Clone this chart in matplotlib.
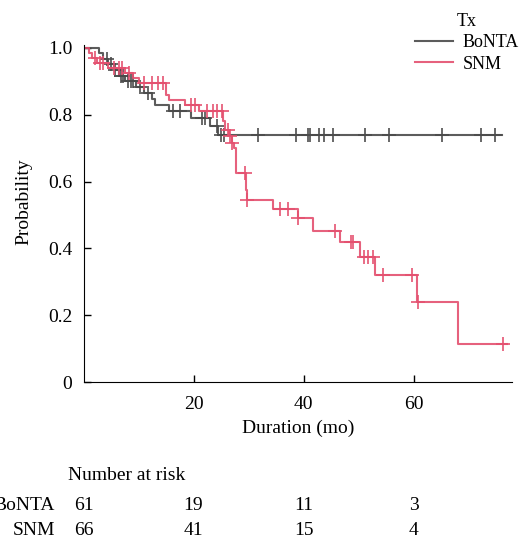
import numpy as np
import matplotlib.pyplot as plt

plt.rcParams['font.family'] = ['Liberation Serif', 'DejaVu Serif']
plt.rcParams['font.size'] = 14

# Kaplan-Meier steps (time in months, survival after the drop)
bonta_times = [0, 2.8, 3.5, 4.5, 5.5, 6.5, 7.5, 9.5, 11.0, 12.5, 13.0, 15.5, 19.5, 23.0, 24.5]
bonta_surv = [1.0, 0.984, 0.967, 0.951, 0.934, 0.917, 0.90, 0.883, 0.865, 0.846, 0.828,
              0.81, 0.79, 0.765, 0.74]
bonta_end = 76.0
bonta_censor = [4.2, 5.0, 5.8, 6.8, 7.2, 8.0, 8.6, 9.0, 10.2, 11.8, 16.3, 17.6, 21.5, 22.0,
                24.3, 25.0, 25.6, 31.7, 38.7, 40.8, 41.1, 42.9, 43.8, 45.3, 51.2, 55.5,
                65.2, 72.3, 74.9]

snm_times = [0, 1.0, 1.5, 2.5, 4.5, 7.5, 9.0, 10.0, 15.0, 15.5, 18.5, 21.0, 25.3, 25.8,
             26.5, 27.0, 27.3, 27.7, 29.5, 29.6, 29.7, 34.5, 39.0, 41.8, 46.6, 50.3, 53.0,
             60.6, 68.0]
snm_surv = [1.0, 0.985, 0.97, 0.955, 0.94, 0.925, 0.91, 0.895, 0.86, 0.845, 0.828, 0.81,
            0.78, 0.755, 0.735, 0.715, 0.70, 0.625, 0.60, 0.575, 0.545, 0.517, 0.49, 0.453,
            0.42, 0.375, 0.32, 0.24, 0.114]
snm_end = 77.0
snm_censor = [2.0, 3.0, 3.6, 5.6, 6.5, 7.0, 8.2, 11.0, 12.5, 13.5, 14.5, 19.5, 20.3, 22.4,
              23.5, 24.3, 25.2, 26.3, 26.6, 27.0, 29.4, 29.7, 35.7, 37.2, 39.0, 45.7, 48.6,
              49.0, 51.0, 51.7, 52.6, 54.4, 59.7, 60.8, 76.3]

risk_times = [0, 20, 40, 60]
risk_bonta = [61, 19, 11, 3]
risk_snm = [66, 41, 15, 4]

c_bonta = '#4a4a4a'
c_snm = '#e4506f'


def surv_at(times, surv, t):
    i = np.searchsorted(times, t, side='right') - 1
    return np.asarray(surv)[i]


fig = plt.figure(figsize=(5.22, 5.41), dpi=100)
ax = fig.add_axes([0.16, 0.2939, 0.8218, 0.6236])

for times, surv, end, cens, col, lab in [
        (bonta_times, bonta_surv, bonta_end, bonta_censor, c_bonta, 'BoNTA'),
        (snm_times, snm_surv, snm_end, snm_censor, c_snm, 'SNM')]:
    x = list(times) + [end]
    y = list(surv) + [surv[-1]]
    ax.step(x, y, where='post', color=col, lw=1.5, alpha=0.9, label=lab)
    ax.plot(cens, surv_at(times, surv, cens), linestyle='none', marker='+',
            markersize=10, mew=1.3, color=col, alpha=0.9)

ax.set_xlim(0, 78)
ax.set_ylim(0, 1.01)
ax.set_xticks([20, 40, 60])
ax.set_yticks([0, 0.2, 0.4, 0.6, 0.8, 1.0])
ax.set_yticklabels(['0', '0.2', '0.4', '0.6', '0.8', '1.0'])
ax.tick_params(direction='in', length=5, width=1)
ax.tick_params(axis='x', pad=10)
ax.tick_params(axis='y', pad=8)
ax.spines['top'].set_visible(False)
ax.spines['right'].set_visible(False)
ax.set_xlabel('Duration (mo)', labelpad=5)
ax.set_ylabel('Probability')
ax.yaxis.set_label_coords(-0.12, 0.535)

leg = fig.legend(loc='upper left', bbox_to_anchor=(0.782, 0.99), frameon=False,
                 title='Tx', fontsize=13, title_fontsize=13, handlelength=2.1,
                 handletextpad=0.5, labelspacing=0.25, borderaxespad=0)

# number at risk table
tr = ax.get_xaxis_transform()
ax.text(-2.8, -0.276, 'Number at risk', transform=tr, ha='left', va='center', clip_on=False)
for row_y, name, vals in [(-0.365, 'BoNTA', risk_bonta), (-0.439, 'SNM', risk_snm)]:
    ax.text(-5.2, row_y, name, transform=tr, ha='right', va='center', clip_on=False)
    for t, v in zip(risk_times, vals):
        ax.text(t, row_y, str(v), transform=tr, ha='center', va='center', clip_on=False)

fig.savefig('out.png', dpi=100)
